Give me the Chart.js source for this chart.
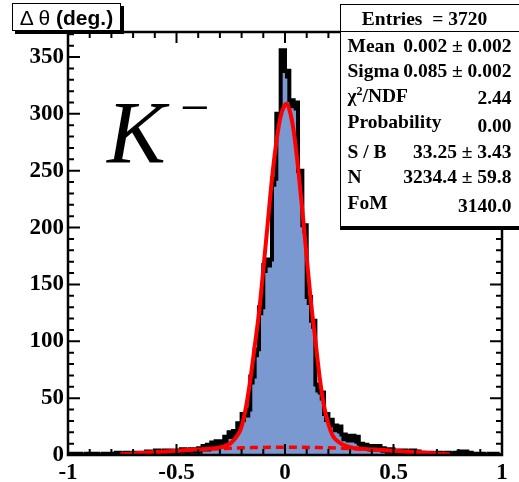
<!DOCTYPE html>
<html>
<head>
<meta charset="utf-8">
<script src="https://cdn.jsdelivr.net/npm/chart.js@4.4.1/dist/chart.umd.min.js"></script>
<style>
body { margin: 0; background: #fff; }
#wrap { position: relative; width: 519px; height: 482px; overflow: hidden; }
#grafico { position: absolute; left: 0; top: 0; }
.title { position: absolute; left: 12px; top: 3px; width: 107px; height: 26px; border: 1.5px solid #000;
  box-shadow: 3px 3px 0 #000; background: #fff; font-family: 'Liberation Sans', Arial, sans-serif;
  font-size: 21px; line-height: 27px; text-align: center; white-space: nowrap; }
.title b { font-weight: bold; }
.kname { position: absolute; left: 107px; top: 89px; font-family: 'Liberation Serif', 'Times New Roman', serif;
  font-style: italic; font-size: 88px; line-height: 88px; }
.kminus { position: absolute; left: 180px; top: 82px; font-family: 'Liberation Serif', 'Times New Roman', serif;
  font-size: 52px; line-height: 52px; }
.stats { position: absolute; left: 340px; top: 4px; width: 190px; height: 221px; border: 1.5px solid #000;
  box-shadow: 0 3px 0 #000; background: #fff; font-family: 'Liberation Serif', 'Times New Roman', serif;
  font-weight: bold; font-size: 19.5px; white-space: nowrap; }
.stats .hdr { position: absolute; left: 0; top: 0; width: 167px; height: 26px; line-height: 28px;
  text-align: center; }
.stats .sep { position: absolute; left: 0; top: 26px; width: 190px; height: 0; border-top: 1.5px solid #000; }
.row { position: absolute; left: 6.5px; width: 164px; height: 22px; line-height: 22px; }
.row .v { position: absolute; right: 0; top: 0; }
.row .sup { position: relative; top: -7px; font-size: 12px; }
</style>
</head>
<body>
<div id="wrap">
  <canvas id="grafico" width="519" height="482"></canvas>
  <div class="title">Δ θ <b>(deg.)</b></div>
  <div class="kname">K</div>
  <div class="kminus">−</div>
  <div class="stats">
    <div class="hdr">Entries &nbsp;= 3720</div>
    <div class="sep"></div>
    <div class="row" style="top:30px">Mean<span class="v">0.002 ± 0.002</span></div>
    <div class="row" style="top:55px">Sigma<span class="v">0.085 ± 0.002</span></div>
    <div class="row" style="top:80px">χ<span class="sup">2</span>/NDF<span class="v" style="top:2px">2.44</span></div>
    <div class="row" style="top:106px">Probability<span class="v" style="top:4px">0.00</span></div>
    <div class="row" style="top:136px">S / B<span class="v">33.25 ± 3.43</span></div>
    <div class="row" style="top:161px">N<span class="v">3234.4 ± 59.8</span></div>
    <div class="row" style="top:187px">FoM<span class="v" style="top:3px">3140.0</span></div>
  </div>
</div>
<script>
/* ---------------------------------- Datos --------------------------------- */
const xMin = -1;
const xMax = 1;
const binWidth = 0.02;

// total entries per bin (black)
const totalCounts = [
  1, 1, 1, 0, 1, 1, 1, 0, 1, 1,
  1, 2, 1, 2, 1, 2, 2, 2, 3, 2,
  4, 3, 4, 4, 3, 4, 5, 4, 5, 5,
  6, 8, 9, 11, 12, 12, 16, 20, 21, 28,
  36, 40, 69, 93, 130, 167, 172, 243, 300, 356,
  338, 312, 310, 250, 202, 139, 118, 62, 55, 36,
  31, 26, 25, 18, 17, 17, 16, 10, 9, 8,
  8, 8, 6, 5, 5, 4, 4, 4, 3, 4,
  3, 2, 1, 2, 1, 2, 1, 2, 1, 2,
  3, 3, 2, 1, 1, 1, 0, 1, 1, 0
];

// signal per bin (blue fill)
const signalCounts = [
  0, 0, 0, 0, 0, 0, 0, 0, 0, 0,
  0, 0, 0, 0, 0, 0, 0, 0, 0, 0,
  1, 0, 1, 0, 0, 0, 1, 0, 1, 1,
  1, 3, 3, 5, 6, 6, 10, 14, 15, 22,
  29, 33, 62, 86, 123, 160, 165, 236, 293, 336,
  331, 305, 303, 243, 195, 132, 111, 55, 48, 29,
  25, 20, 19, 12, 11, 11, 10, 5, 4, 3,
  3, 3, 2, 1, 1, 0, 0, 1, 0, 1,
  0, 0, 0, 0, 0, 0, 0, 0, 0, 0,
  0, 0, 0, 0, 0, 0, 0, 0, 0, 0
];

// fit: signal + background (solid red)
const fitX = [-0.76, -0.65, -0.55, -0.45, -0.35, -0.30, -0.25, -0.22, -0.20, -0.18, -0.16, -0.14, -0.12, -0.10,
  -0.08, -0.06, -0.04, -0.02, 0.0, 0.005, 0.02, 0.04, 0.06, 0.08, 0.10, 0.12, 0.14, 0.16, 0.18, 0.20, 0.22,
  0.25, 0.30, 0.35, 0.45, 0.55, 0.65, 0.76];
const fitY = [0.4, 2.0, 3.1, 4.4, 5.6, 6.6, 10.5, 17, 25, 42, 66, 95, 125, 163,
  203, 243, 275, 298, 308, 309, 304, 285, 253, 215, 174, 134, 101, 68, 43, 27, 17,
  11, 6.8, 5.6, 4.4, 3.1, 2.0, 0.4];

// fit: background only (dashed red)
const bkgX = [-0.76, -0.6, -0.45, -0.3, -0.15, 0, 0.15, 0.3, 0.45, 0.6, 0.76];
const bkgY = [0.5, 2.5, 4.2, 5.6, 6.5, 6.8, 6.5, 5.6, 4.2, 2.5, 0.5];

const xTickLabels = ['-1', '-0.5', '0', '0.5', '1'];
const yTickLabels = ['0', '50', '100', '150', '200', '250', '300', '350'];

function histPoints(counts) {
  let pts = counts.map((c, i) => ({ x: xMin + i * binWidth, y: c }));
  pts.push({ x: xMax, y: counts[counts.length - 1] });
  return pts;
}

function curvePoints(xs, ys) {
  return xs.map((x, i) => ({ x: x, y: ys[i] }));
}

/* ----------------------- marco y marcas estilo ROOT ----------------------- */
const rootFrame = {
  id: 'rootFrame',
  afterDatasetsDraw(chart) {
    const ctx = chart.ctx;
    const a = chart.chartArea;
    const sx = chart.scales.x;
    const sy = chart.scales.y;
    ctx.save();
    ctx.strokeStyle = '#000';
    ctx.lineWidth = 2;
    ctx.beginPath();
    for (let k = 0; k <= 20; k++) {
      let px = sx.getPixelForValue(-1 + k * 0.1);
      let len = (k % 5 === 0) ? 11 : 6;
      ctx.moveTo(px, a.bottom); ctx.lineTo(px, a.bottom - len);
      ctx.moveTo(px, a.top); ctx.lineTo(px, a.top + len);
    }
    for (let k = 0; k <= 37; k++) {
      let py = sy.getPixelForValue(k * 10);
      let len = (k % 5 === 0) ? 12 : 6;
      ctx.moveTo(a.left, py); ctx.lineTo(a.left + len, py);
      ctx.moveTo(a.right, py); ctx.lineTo(a.right - len, py);
    }
    ctx.stroke();
    ctx.lineWidth = 2.5;
    ctx.strokeRect(a.left, a.top, a.right - a.left, a.bottom - a.top);
    ctx.restore();
  }
};

function crearGrafico(contenedor) {
  let canvasGrafico = document.getElementById(contenedor);
  let tickFont = { family: "'Liberation Serif', 'Times New Roman', serif", size: 23, weight: 'bold' };

  return new Chart(canvasGrafico, {
    type: 'line',
    data: {
      datasets: [
        {
          label: 'total (fill)',
          data: histPoints(totalCounts),
          stepped: true,
          fill: 'origin',
          backgroundColor: '#000000',
          borderColor: 'transparent',
          borderWidth: 0,
          pointRadius: 0,
          order: 5
        },
        {
          label: 'signal',
          data: histPoints(signalCounts),
          stepped: true,
          fill: 'origin',
          backgroundColor: '#7a99d1',
          borderColor: 'transparent',
          borderWidth: 0,
          pointRadius: 0,
          order: 4
        },
        {
          label: 'total',
          data: histPoints(totalCounts),
          stepped: true,
          fill: false,
          borderColor: '#000000',
          borderWidth: 4,
          pointRadius: 0,
          order: 3
        },
        {
          label: 'background',
          data: curvePoints(bkgX, bkgY),
          fill: false,
          borderColor: '#ff0000',
          borderWidth: 3.5,
          borderDash: [8, 5],
          cubicInterpolationMode: 'monotone',
          pointRadius: 0,
          order: 2
        },
        {
          label: 'fit',
          data: curvePoints(fitX, fitY),
          fill: false,
          borderColor: '#ff0000',
          borderWidth: 4,
          cubicInterpolationMode: 'monotone',
          pointRadius: 0,
          order: 1
        }
      ]
    },
    options: {
      responsive: false,
      animation: false,
      devicePixelRatio: 1,
      layout: { padding: { top: 32, right: 17, left: 0, bottom: 0 } },
      plugins: { legend: { display: false }, tooltip: { enabled: false } },
      scales: {
        x: {
          type: 'linear',
          min: xMin,
          max: xMax,
          grid: { display: false, drawTicks: false },
          border: { display: false },
          ticks: {
            stepSize: 0.5,
            autoSkip: false,
            maxRotation: 0,
            padding: 4,
            color: '#000',
            font: tickFont,
            callback: (v, i) => xTickLabels[i]
          },
          afterFit: (scale) => { scale.height = 27; }
        },
        y: {
          type: 'linear',
          min: 0,
          max: 372,
          grid: { display: false, drawTicks: false },
          border: { display: false },
          ticks: {
            stepSize: 50,
            includeBounds: false,
            autoSkip: false,
            padding: 4,
            color: '#000',
            font: tickFont,
            callback: (v, i) => yTickLabels[i]
          },
          afterFit: (scale) => { scale.width = 68; }
        }
      }
    },
    plugins: [rootFrame]
  });
}

crearGrafico('grafico');
</script>
</body>
</html>
